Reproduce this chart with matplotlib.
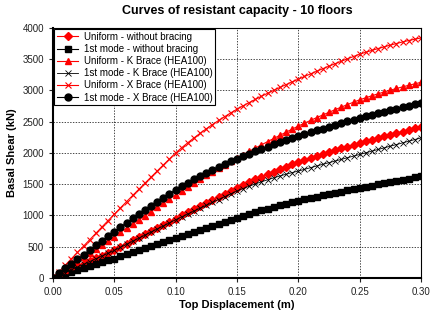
import matplotlib
matplotlib.use('Agg')
import matplotlib.pyplot as plt
import numpy as np

plt.rcParams['font.family'] = ['Liberation Sans', 'DejaVu Sans']

# top displacement (m), one point every 0.005 m
disp = np.round(np.arange(0, 0.3001, 0.005), 3)

# basal shear (kN)
uniform_no_brace = [0, 42, 87, 132, 177, 222, 267, 312, 358, 404, 450,
                    500, 550, 600, 650, 700, 750, 800, 850, 900, 950,
                    999, 1048, 1097, 1146, 1195, 1244, 1293, 1342, 1391, 1440,
                    1487, 1532, 1576, 1619, 1661, 1702, 1742, 1780, 1816, 1850,
                    1883, 1916, 1948, 1980, 2011, 2042, 2072, 2102, 2132, 2162,
                    2188, 2214, 2240, 2266, 2292, 2317, 2342, 2367, 2392, 2417]
mode1_no_brace = [0, 31, 62, 93, 124, 155, 186, 217, 248, 279, 310,
                  343, 376, 409, 442, 475, 508, 541, 574, 607, 640,
                  672, 705, 737, 770, 802, 835, 867, 900, 932, 965,
                  996, 1026, 1055, 1083, 1110, 1136, 1162, 1187, 1212, 1236,
                  1258, 1280, 1301, 1322, 1342, 1362, 1381, 1400, 1419, 1438,
                  1457, 1476, 1495, 1514, 1533, 1552, 1571, 1590, 1609, 1628]
uniform_k = [0, 64, 130, 196, 262, 328, 394, 460, 526, 593, 660,
             727, 794, 861, 928, 995, 1062, 1129, 1196, 1263, 1330,
             1395, 1458, 1520, 1581, 1640, 1698, 1755, 1811, 1866, 1920,
             1973, 2026, 2078, 2130, 2181, 2232, 2282, 2332, 2381, 2430,
             2476, 2521, 2565, 2608, 2650, 2692, 2733, 2773, 2812, 2850,
             2883, 2915, 2946, 2976, 3004, 3031, 3057, 3082, 3106, 3130]
mode1_k = [0, 42, 86, 130, 174, 218, 262, 306, 350, 395, 440,
           489, 538, 587, 636, 685, 734, 783, 832, 881, 930,
           977, 1024, 1070, 1116, 1162, 1208, 1254, 1300, 1345, 1390,
           1430, 1468, 1504, 1538, 1570, 1601, 1631, 1659, 1685, 1710,
           1737, 1764, 1791, 1818, 1844, 1870, 1896, 1923, 1949, 1975,
           2002, 2029, 2055, 2081, 2108, 2134, 2161, 2187, 2214, 2240]
uniform_x = [0, 102, 204, 306, 408, 510, 612, 714, 816, 918, 1020,
             1120, 1220, 1319, 1418, 1516, 1614, 1711, 1808, 1904, 2000,
             2084, 2164, 2241, 2315, 2386, 2454, 2519, 2581, 2641, 2700,
             2754, 2806, 2857, 2907, 2955, 3002, 3048, 3093, 3137, 3180,
             3223, 3265, 3307, 3348, 3388, 3428, 3467, 3505, 3543, 3580,
             3611, 3641, 3670, 3698, 3725, 3751, 3776, 3799, 3820, 3840]
mode1_x = [0, 76, 152, 226, 300, 374, 448, 522, 596, 668, 740,
           812, 883, 953, 1022, 1090, 1156, 1221, 1285, 1348, 1410,
           1469, 1526, 1581, 1634, 1685, 1734, 1781, 1826, 1869, 1910,
           1950, 1989, 2027, 2064, 2100, 2135, 2170, 2204, 2237, 2270,
           2301, 2331, 2361, 2390, 2419, 2448, 2476, 2504, 2532, 2560,
           2586, 2611, 2636, 2660, 2684, 2708, 2731, 2754, 2777, 2800]

fig = plt.figure(figsize=(4.34, 3.14), dpi=100)
ax = fig.add_axes([0.122, 0.115, 0.848, 0.796])

red = '#ff0000'
ax.plot(disp, uniform_no_brace, color=red, lw=0.8, marker='D', ms=3.8, label='Uniform - without bracing')
ax.plot(disp, mode1_no_brace, color='black', lw=0.8, marker='s', ms=4.8, label='1st mode - without bracing')
ax.plot(disp, uniform_k, color=red, lw=0.8, marker='^', ms=5, label='Uniform - K Brace (HEA100)')
ax.plot(disp, mode1_k, color='black', lw=0.6, marker='x', ms=4, mew=0.6, label='1st mode - K Brace (HEA100)')
ax.plot(disp, uniform_x, color=red, lw=0.8, marker='x', ms=4.5, mew=0.8, label='Uniform - X Brace (HEA100)')
ax.plot(disp, mode1_x, color='black', lw=0.8, marker='o', ms=5, label='1st mode - X Brace (HEA100)')

ax.set_xlim(0, 0.30)
ax.set_ylim(0, 4000)
ax.set_xticks(np.arange(0, 0.301, 0.05))
ax.set_xticklabels([f'{t:.2f}' for t in np.arange(0, 0.301, 0.05)])
ax.set_yticks(np.arange(0, 4001, 500))
ax.tick_params(labelsize=7, length=3, width=0.8, direction='out', colors='#222222')
ax.grid(True, color='black', linestyle=(0, (2, 2)), linewidth=0.5)

for side in ['left', 'bottom']:
    ax.spines[side].set_linewidth(1.5)
for side in ['top', 'right']:
    ax.spines[side].set_linewidth(0.8)

ax.set_title('Curves of resistant capacity - 10 floors', fontsize=9, fontweight='bold', pad=10)
ax.set_xlabel('Top Displacement (m)', fontsize=8, fontweight='bold', labelpad=2)
ax.set_ylabel('Basal Shear (kN)', fontsize=8, fontweight='bold', labelpad=4)

leg = ax.legend(loc='upper left', fontsize=7, frameon=True, fancybox=False, borderaxespad=0.15,
                handlelength=2.2, labelspacing=0.22, borderpad=0.25, handletextpad=0.6)
leg.get_frame().set_edgecolor('black')
leg.get_frame().set_linewidth(0.8)
leg.get_frame().set_alpha(1)

plt.savefig('out.png', dpi=100)
